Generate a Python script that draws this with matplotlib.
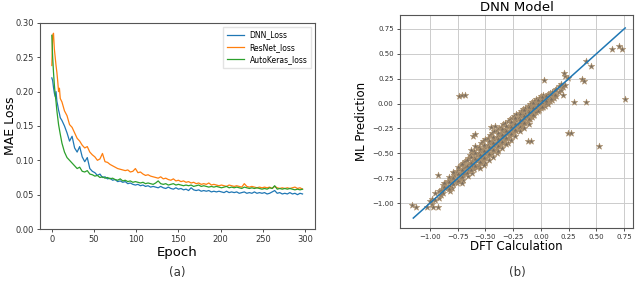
import matplotlib
matplotlib.use("Agg")
import matplotlib.pyplot as plt

# ---------------- data: training curves ----------------
epochs = list(range(0, 11)) + list(range(12, 300, 3))

dnn_loss = [
    0.220, 0.216, 0.206, 0.198, 0.193, 0.200, 0.186, 0.180, 0.173, 0.168,
    0.162, 0.158, 0.150, 0.140, 0.128, 0.135, 0.118, 0.112, 0.120, 0.105,
    0.098, 0.104, 0.088, 0.084, 0.082, 0.078, 0.080, 0.075, 0.076, 0.073,
    0.074, 0.071, 0.072, 0.069, 0.070, 0.068, 0.069, 0.066, 0.067, 0.065,
    0.064, 0.065, 0.063, 0.064, 0.062, 0.063, 0.061, 0.062, 0.061, 0.060,
    0.062, 0.060, 0.059, 0.061, 0.059, 0.058, 0.060, 0.058, 0.059, 0.057,
    0.058, 0.056, 0.060, 0.057, 0.056, 0.057, 0.055, 0.056, 0.055, 0.056,
    0.054, 0.055, 0.054, 0.055, 0.054, 0.053, 0.055, 0.053, 0.054, 0.053,
    0.054, 0.052, 0.053, 0.054, 0.052, 0.053, 0.052, 0.054, 0.052, 0.053,
    0.052, 0.053, 0.051, 0.052, 0.054, 0.056, 0.052, 0.053, 0.051, 0.052,
    0.051, 0.053, 0.051, 0.052, 0.050, 0.052, 0.051,
]

resnet_loss = [
    0.238, 0.282, 0.285, 0.262, 0.250, 0.238, 0.228, 0.215, 0.200, 0.205,
    0.190, 0.185, 0.172, 0.165, 0.152, 0.148, 0.140, 0.132, 0.128, 0.122,
    0.118, 0.120, 0.112, 0.108, 0.105, 0.100, 0.102, 0.110, 0.098, 0.097,
    0.094, 0.092, 0.090, 0.088, 0.087, 0.086, 0.085, 0.086, 0.083, 0.084,
    0.088, 0.082, 0.083, 0.080, 0.078, 0.079, 0.077, 0.076, 0.075, 0.074,
    0.076, 0.073, 0.074, 0.072, 0.071, 0.073, 0.070, 0.071, 0.069, 0.070,
    0.068, 0.069, 0.067, 0.068, 0.066, 0.067, 0.065, 0.066, 0.065, 0.067,
    0.064, 0.065, 0.064, 0.063, 0.064, 0.063, 0.062, 0.064, 0.063, 0.062,
    0.063, 0.062, 0.061, 0.066, 0.062, 0.061, 0.062, 0.061, 0.060, 0.061,
    0.060, 0.061, 0.060, 0.061, 0.059, 0.062, 0.060, 0.059, 0.060, 0.059,
    0.060, 0.059, 0.060, 0.061, 0.059, 0.060, 0.058,
]

autokeras_loss = [
    0.282, 0.250, 0.228, 0.210, 0.196, 0.185, 0.172, 0.162, 0.152, 0.145,
    0.138, 0.125, 0.112, 0.104, 0.100, 0.096, 0.092, 0.088, 0.090, 0.084,
    0.083, 0.085, 0.080, 0.079, 0.077, 0.078, 0.075, 0.076, 0.074, 0.075,
    0.073, 0.074, 0.072, 0.071, 0.073, 0.070, 0.071, 0.069, 0.070, 0.068,
    0.069, 0.068, 0.067, 0.068, 0.066, 0.067, 0.066, 0.065, 0.067, 0.070,
    0.066, 0.065, 0.066, 0.064, 0.065, 0.066, 0.064, 0.065, 0.064, 0.063,
    0.064, 0.063, 0.064, 0.062, 0.063, 0.064, 0.062, 0.063, 0.062, 0.061,
    0.062, 0.061, 0.062, 0.061, 0.060, 0.061, 0.062, 0.060, 0.061, 0.060,
    0.061, 0.060, 0.059, 0.061, 0.060, 0.059, 0.060, 0.059, 0.060, 0.059,
    0.058, 0.059, 0.058, 0.060, 0.059, 0.063, 0.058, 0.059, 0.058, 0.059,
    0.058, 0.059, 0.058, 0.057, 0.058, 0.057, 0.058,
]

series_names = ["DNN_Loss", "ResNet_loss", "AutoKeras_loss"]

# ---------------- data: parity scatter ----------------
dft_calc = [
    -0.98, -0.98, -0.95, -0.95, -0.92, -0.92, -0.90, -0.90, -0.88, -0.88, -0.88,
    -0.86, -0.86, -0.84, -0.84, -0.82, -0.82, -0.82, -0.80, -0.80, -0.80,
    -0.78, -0.78, -0.78, -0.76, -0.76, -0.76, -0.74, -0.74, -0.74,
    -0.72, -0.72, -0.72, -0.70, -0.70, -0.70, -0.70, -0.68, -0.68, -0.68,
    -0.66, -0.66, -0.66, -0.66, -0.64, -0.64, -0.64, -0.62, -0.62, -0.62, -0.62,
    -0.60, -0.60, -0.60, -0.60, -0.58, -0.58, -0.58, -0.58, -0.56, -0.56, -0.56, -0.56,
    -0.54, -0.54, -0.54, -0.54, -0.52, -0.52, -0.52, -0.52,
    -0.50, -0.50, -0.50, -0.50, -0.50, -0.48, -0.48, -0.48, -0.48,
    -0.46, -0.46, -0.46, -0.46, -0.44, -0.44, -0.44, -0.44, -0.42, -0.42, -0.42, -0.42,
    -0.40, -0.40, -0.40, -0.40, -0.40, -0.38, -0.38, -0.38, -0.38,
    -0.36, -0.36, -0.36, -0.36, -0.34, -0.34, -0.34, -0.34, -0.32, -0.32, -0.32, -0.32,
    -0.30, -0.30, -0.30, -0.30, -0.30, -0.28, -0.28, -0.28, -0.28,
    -0.26, -0.26, -0.26, -0.26, -0.24, -0.24, -0.24, -0.24, -0.22, -0.22, -0.22, -0.22,
    -0.20, -0.20, -0.20, -0.20, -0.18, -0.18, -0.18, -0.18, -0.16, -0.16, -0.16, -0.16,
    -0.14, -0.14, -0.14, -0.14, -0.12, -0.12, -0.12, -0.12, -0.10, -0.10, -0.10, -0.10,
    -0.08, -0.08, -0.08, -0.08, -0.06, -0.06, -0.06, -0.06, -0.04, -0.04, -0.04, -0.04,
    -0.02, -0.02, -0.02, -0.02, 0.00, 0.00, 0.00, 0.00, 0.02, 0.02, 0.02, 0.02,
    0.04, 0.04, 0.04, 0.06, 0.06, 0.06, 0.08, 0.08, 0.08, 0.10, 0.10, 0.10,
    0.12, 0.12, 0.14, 0.14, 0.16, 0.16, 0.18, 0.18, 0.20, 0.20, 0.22, 0.22,
    # outliers / sparse points
    -1.16, -1.13, -1.03, -1.00, -0.97, -0.93, -0.93, -0.74, -0.71, -0.68,
    -0.61, -0.59, -0.45, -0.41, -0.12, -0.09, 0.03, 0.21, 0.24, 0.24, 0.27,
    0.30, 0.37, 0.39, 0.41, 0.41, 0.45, 0.52, 0.645, 0.70, 0.73, 0.76,
]

ml_pred = [
    -0.96, -1.01, -0.90, -0.97, -0.88, -0.95, -0.87, -0.92, -0.82, -0.90, -0.86,
    -0.85, -0.80, -0.78, -0.84, -0.76, -0.83, -0.88, -0.74, -0.79, -0.85,
    -0.72, -0.78, -0.70, -0.68, -0.77, -0.80, -0.66, -0.72, -0.78,
    -0.62, -0.70, -0.75, -0.60, -0.66, -0.72, -0.77, -0.58, -0.64, -0.70,
    -0.55, -0.62, -0.68, -0.73, -0.52, -0.60, -0.66, -0.50, -0.58, -0.64, -0.70,
    -0.48, -0.55, -0.62, -0.66, -0.45, -0.52, -0.58, -0.64, -0.44, -0.50, -0.56, -0.62,
    -0.40, -0.48, -0.54, -0.60, -0.38, -0.46, -0.52, -0.57,
    -0.36, -0.44, -0.50, -0.55, -0.60, -0.35, -0.42, -0.48, -0.53,
    -0.32, -0.40, -0.46, -0.52, -0.30, -0.38, -0.44, -0.50, -0.28, -0.36, -0.42, -0.47,
    -0.27, -0.34, -0.40, -0.45, -0.50, -0.25, -0.32, -0.38, -0.43,
    -0.23, -0.30, -0.36, -0.41, -0.20, -0.28, -0.34, -0.40, -0.19, -0.26, -0.32, -0.37,
    -0.17, -0.24, -0.30, -0.35, -0.40, -0.15, -0.22, -0.28, -0.33,
    -0.14, -0.20, -0.26, -0.31, -0.12, -0.18, -0.24, -0.29, -0.10, -0.16, -0.22, -0.28,
    -0.09, -0.14, -0.20, -0.25, -0.07, -0.12, -0.18, -0.23, -0.05, -0.10, -0.16, -0.21,
    -0.04, -0.09, -0.14, -0.19, -0.02, -0.07, -0.12, -0.17, 0.00, -0.05, -0.10, -0.15,
    0.02, -0.03, -0.08, -0.13, 0.03, -0.01, -0.06, -0.11, 0.05, 0.01, -0.04, -0.08,
    0.06, 0.02, -0.02, -0.06, 0.08, 0.03, 0.00, -0.04, 0.09, 0.05, 0.01, -0.03,
    0.07, 0.02, -0.02, 0.10, 0.05, 0.00, 0.11, 0.06, 0.03, 0.08, 0.04, 0.12,
    0.10, 0.06, 0.15, 0.08, 0.12, 0.18, 0.14, 0.20, 0.17, 0.09, 0.19, 0.28,
    # outliers / sparse points
    -1.02, -1.04, -1.04, -0.98, -1.04, -1.04, -0.72, 0.08, 0.09, 0.09,
    -0.33, -0.31, -0.23, -0.22, -0.38, -0.38, 0.24, 0.31, 0.26, -0.30, -0.30,
    0.02, 0.25, 0.23, 0.43, 0.02, 0.38, -0.43, 0.55, 0.58, 0.55, 0.05,
]

# second, interleaved group of points in the dense band
dft_calc_b = [
    -0.87, -0.87, -0.83, -0.83, -0.83, -0.79, -0.79, -0.79,
    -0.75, -0.75, -0.75, -0.71, -0.71, -0.71, -0.71, -0.67, -0.67, -0.67,
    -0.63, -0.63, -0.63, -0.63, -0.59, -0.59, -0.59, -0.59,
    -0.55, -0.55, -0.55, -0.55, -0.51, -0.51, -0.51, -0.51,
    -0.47, -0.47, -0.47, -0.47, -0.43, -0.43, -0.43, -0.43,
    -0.39, -0.39, -0.39, -0.39, -0.35, -0.35, -0.35, -0.35,
    -0.31, -0.31, -0.31, -0.31, -0.27, -0.27, -0.27, -0.27,
    -0.23, -0.23, -0.23, -0.23, -0.19, -0.19, -0.19, -0.19,
    -0.15, -0.15, -0.15, -0.15, -0.11, -0.11, -0.11, -0.11,
    -0.07, -0.07, -0.07, -0.03, -0.03, -0.03, 0.01, 0.01, 0.01,
    0.05, 0.05, 0.05, 0.09, 0.09, 0.13, 0.13,
]

ml_pred_b = [
    -0.84, -0.80, -0.86, -0.79, -0.74, -0.81, -0.75, -0.69,
    -0.78, -0.71, -0.64, -0.74, -0.67, -0.61, -0.80, -0.70, -0.63, -0.57,
    -0.67, -0.60, -0.54, -0.47, -0.63, -0.56, -0.50, -0.43,
    -0.59, -0.52, -0.46, -0.65, -0.55, -0.48, -0.42, -0.62,
    -0.51, -0.44, -0.38, -0.57, -0.47, -0.40, -0.34, -0.54,
    -0.43, -0.36, -0.30, -0.48, -0.39, -0.32, -0.26, -0.45,
    -0.35, -0.28, -0.22, -0.41, -0.31, -0.24, -0.18, -0.37,
    -0.27, -0.20, -0.14, -0.33, -0.23, -0.16, -0.10, -0.28,
    -0.19, -0.12, -0.06, -0.25, -0.15, -0.08, -0.03, -0.20,
    -0.11, -0.04, 0.01, -0.07, 0.00, 0.04, -0.03, 0.04, 0.07,
    0.01, 0.08, 0.03, 0.05, 0.10, 0.09, 0.14,
]

parity_x = [-1.15, 0.76]

# ---------------- figure ----------------
fig = plt.figure(figsize=(6.4, 2.89), dpi=100)

ax1 = fig.add_axes([0.0625, 0.2076, 0.430, 0.713])
ax1.plot(epochs, dnn_loss, color="#1f77b4", lw=0.9, label=series_names[0])
ax1.plot(epochs, resnet_loss, color="#ff7f0e", lw=0.9, label=series_names[1])
ax1.plot(epochs, autokeras_loss, color="#2ca02c", lw=0.9, label=series_names[2])
ax1.set_xlim(-14, 312)
ax1.set_ylim(0, 0.30)
ax1.set_xticks([0, 50, 100, 150, 200, 250, 300])
ax1.set_yticks([0.00, 0.05, 0.10, 0.15, 0.20, 0.25, 0.30])
ax1.set_yticklabels(["0.00", "0.05", "0.10", "0.15", "0.20", "0.25", "0.30"])
ax1.tick_params(labelsize=6, length=2.5, width=0.6, pad=2, colors="#333333")
ax1.set_xlabel("Epoch", fontsize=9.5, labelpad=1)
ax1.set_ylabel("MAE Loss", fontsize=9)
ax1.yaxis.set_label_coords(-0.085, 0.5)
ax1.legend(loc="upper right", fontsize=5.5, handlelength=2.2, borderpad=0.5,
           labelspacing=0.4, frameon=True, fancybox=False, edgecolor="#dddddd")
for s in ax1.spines.values():
    s.set_color("#555555")
    s.set_linewidth(0.8)

ax2 = fig.add_axes([0.625, 0.211, 0.364, 0.737])
ax2.grid(True, color="#cccccc", lw=0.7)
ax2.set_axisbelow(True)
ax2.scatter(dft_calc + dft_calc_b, ml_pred + ml_pred_b, marker="*", s=24,
            facecolor="#7a6e60", edgecolor="#b39670", linewidths=0.4, zorder=2)
ax2.plot(parity_x, parity_x, color="#1f77b4", lw=1.1, zorder=3)
ax2.set_xlim(-1.27, 0.83)
ax2.set_ylim(-1.25, 0.89)
ax2.set_xticks([-1.00, -0.75, -0.50, -0.25, 0.00, 0.25, 0.50, 0.75])
ax2.set_xticklabels(["\u22121.00", "\u22120.75", "\u22120.50", "\u22120.25", "0.00", "0.25", "0.50", "0.75"])
ax2.set_yticks([-1.00, -0.75, -0.50, -0.25, 0.00, 0.25, 0.50, 0.75])
ax2.set_yticklabels(["\u22121.00", "\u22120.75", "\u22120.50", "\u22120.25", "0.00", "0.25", "0.50", "0.75"])
ax2.tick_params(labelsize=5, length=2.5, width=0.6, pad=2, colors="#333333")
ax2.set_xlabel("DFT Calculation", fontsize=8.5, labelpad=0)
ax2.set_ylabel("ML Prediction", fontsize=8.5, labelpad=3)
ax2.set_title("DNN Model", fontsize=9.5, pad=3)
for s in ax2.spines.values():
    s.set_color("#555555")
    s.set_linewidth(0.8)

fig.text(0.277, 0.058, "(a)", fontsize=8.5, ha="center", va="center", color="#333333")
fig.text(0.808, 0.058, "(b)", fontsize=8.5, ha="center", va="center", color="#333333")

fig.savefig("out.png", dpi=100)
